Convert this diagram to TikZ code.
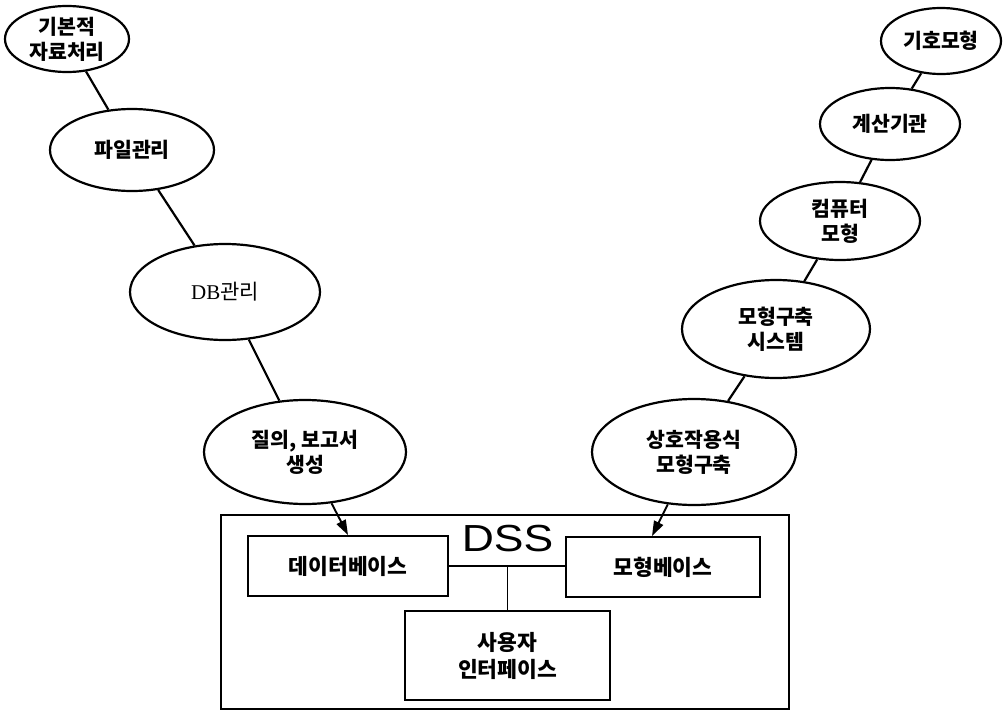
\documentclass[tikz,border=0pt]{standalone}
\usepackage{fontspec}
\setmainfont{Noto Sans CJK KR}
\newfontfamily\dssfont{Liberation Sans}
\newfontfamily\latinserif{Liberation Serif}
\usetikzlibrary{shapes.geometric,arrows.meta}
\begin{document}
\begin{tikzpicture}[x=1pt,y=-1pt,
  oval/.style={draw,ellipse,line width=2.2pt,inner sep=0pt,align=center,
    font=\fontsize{20.5}{25}\selectfont\bfseries},
  link/.style={line width=2.2pt},
  boxn/.style={draw,rectangle,line width=1.9pt,inner sep=0pt,align=center,
    font=\fontsize{21.5}{27}\selectfont\bfseries},
  arr/.style={line width=1.9pt,-{Triangle[length=15pt,width=10pt]}}]
\useasboundingbox (0,0) rectangle (1003,712);
% left chain
\node[oval,minimum width=124pt,minimum height=66pt] (a1) at (67,39) {기본적\\자료처리};
\node[oval,minimum width=164pt,minimum height=82pt] (a2) at (132,150) {파일관리};
\node[oval,minimum width=190pt,minimum height=96pt,font=\fontsize{21}{25}\selectfont] (a3) at (225,292) {{\latinserif DB}관리};
\node[oval,minimum width=202pt,minimum height=104pt] (a4) at (305,452) {질의, 보고서\\생성};
% right chain
\node[oval,minimum width=120pt,minimum height=66pt] (b1) at (941,41) {기호모형};
\node[oval,minimum width=140pt,minimum height=72pt] (b2) at (890,124) {계산기관};
\node[oval,minimum width=160pt,minimum height=78pt] (b3) at (840,221) {컴퓨터\\모형};
\node[oval,minimum width=188pt,minimum height=98pt] (b4) at (776,329) {모형구축\\시스템};
\node[oval,minimum width=204pt,minimum height=106pt] (b5) at (694,452) {상호작용식\\모형구축};
% DSS
\node[boxn,minimum width=568pt,minimum height=194pt] (dss) at (505,612) {};
\node[inner sep=0pt,font=\dssfont\fontsize{37.7}{40}\selectfont] (dsslbl) at (507.5,538.5) {\scalebox{1.18}[1]{DSS}};
\node[boxn,minimum width=200pt,minimum height=60pt] (db) at (348,566) {데이터베이스};
\node[boxn,minimum width=194pt,minimum height=60pt] (mb) at (663,567) {모형베이스};
\node[boxn,minimum width=205pt,minimum height=89pt] (ui) at (507.5,655.5) {사용자\\인터페이스};
% links
\draw[link] (a1) -- (a2);
\draw[link] (a2) -- (a3);
\draw[link] (a3) -- (a4);
\draw[link] (b1) -- (b2);
\draw[link] (b2) -- (b3);
\draw[link] (b3) -- (b4);
\draw[link] (b4) -- (b5);
\draw[arr] (a4) -- (db.north);
\draw[arr] (b5) -- ([xshift=-11pt]mb.north);
\draw[line width=1.6pt] (db.east) -- (db.east -| mb.west);
\draw[line width=1.6pt] (ui.north) -- (ui.north |- db.east);
\end{tikzpicture}
\end{document}
